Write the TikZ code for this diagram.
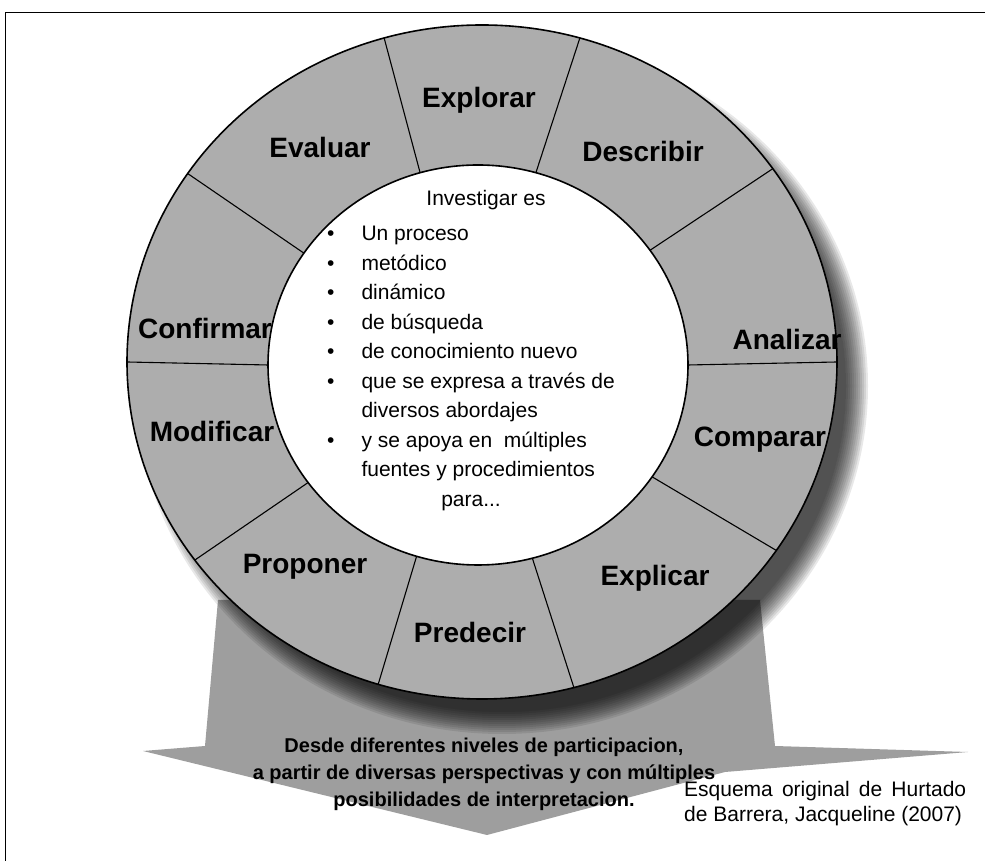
\documentclass[tikz,border=0pt]{standalone}
\usepackage{fontspec}
\setmainfont{Liberation Sans}
\usetikzlibrary{calc}

\begin{document}
\begin{tikzpicture}[x=1pt, y=1pt,
        etiqueta/.style={font=\bfseries\fontsize{28}{30}\selectfont, inner sep=0pt},
        divisor/.style={black, line width=1.1pt},
        borde/.style={black, line width=1.6pt},
        lista/.style={font=\fontsize{21}{29.5}\selectfont, inner sep=0pt}]
    \useasboundingbox (0,0) rectangle (985,861);
    \draw[line width=1pt] (5,0) -- (5,848) -- (985,848);

    \coordinate (oc) at (482,499);
    \coordinate (ic) at (478,496);

    \fill[black!38] (218,261) -- (205,115) -- (143,110) -- (487,26) -- (725,89) -- (968,109) -- (775,115) -- (760,261) -- cycle;
    \foreach \k in {0,...,11}
        \fill[black, opacity=0.09] ($(oc)+(20,-24)$) ellipse ({344+2*\k} and {326+2*\k});
    \filldraw[borde, fill=black!32] (oc) ellipse (355 and 337);
    \filldraw[borde, fill=white] (ic) ellipse (210 and 200);
    \foreach \a in {74,35,0,-34,-75,-107,-144,180,146,106}
        \draw[divisor] ($(ic)+(\a:210 and 200)$) -- ($(oc)+(\a:355 and 337)$);

    \node[etiqueta] (explorar) at (479,761) {Explorar};
    \node[etiqueta] (describir) at (643,709) {Describir};
    \node[etiqueta] (analizar) at (787,521) {Analizar};
    \node[etiqueta] (comparar) at (760,421) {Comparar};
    \node[etiqueta] (explicar) at (655,283) {Explicar};
    \node[etiqueta] (predecir) at (470,229) {Predecir};
    \node[etiqueta] (proponer) at (305,294) {Proponer};
    \node[etiqueta] (modificar) at (212,429) {Modificar};
    \node[etiqueta] (confirmar) at (205,532) {Confirmar};
    \node[etiqueta] (evaluar) at (320,713) {Evaluar};

    \node[lista] (investigar) at (486,661) {Investigar es};
    \node[lista, anchor=base west] (rasgos) at (327,620) {%
        \begin{tabular}[t]{@{}l@{\hspace{27pt}}l@{}}
            \textbullet & Un proceso\\
            \textbullet & metódico\\
            \textbullet & dinámico\\
            \textbullet & de búsqueda\\
            \textbullet & de conocimiento nuevo\\
            \textbullet & que se expresa a través de\\
                        & diversos abordajes\\
            \textbullet & y se apoya en\ \ múltiples\\
                        & fuentes y procedimientos\\
            \multicolumn{2}{c}{para...}
        \end{tabular}};

    \node[font=\bfseries\fontsize{20}{27}\selectfont, align=center, inner sep=0pt] (niveles) at (484,87)
        {Desde diferentes niveles de participacion,\\
         a partir de diversas perspectivas y con múltiples\\
         posibilidades de interpretacion.};

    \node[anchor=north west, text width=282pt, align=justify, inner sep=0pt,
          font=\fontsize{21}{25}\selectfont] (esquema) at (684,80)
        {Esquema original de Hurtado\linebreak de Barrera, Jacqueline (2007)};
\end{tikzpicture}
\end{document}
